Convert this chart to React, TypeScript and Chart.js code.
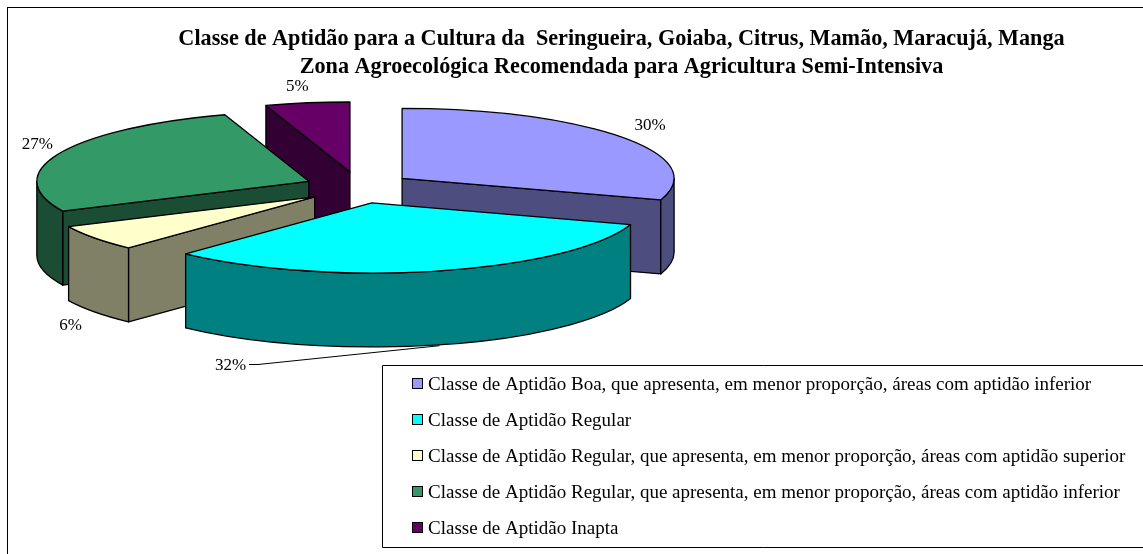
import React, { useEffect, useRef } from "react";
import { Chart, registerables } from "chart.js";

Chart.register(...registerables);

const categories = [
  "Classe de Aptidão Boa, que apresenta, em menor proporção, áreas com aptidão inferior",
  "Classe de Aptidão Regular",
  "Classe de Aptidão Regular, que apresenta, em menor proporção, áreas com aptidão superior",
  "Classe de Aptidão Regular, que apresenta, em menor proporção, áreas com aptidão inferior",
  "Classe de Aptidão Inapta",
];
const values = [30, 32, 6, 27, 5];
const topColors = ["#9999FF", "#00FFFF", "#FFFFCC", "#339966", "#660066"];
const sideColors = ["#4D4D80", "#008080", "#808066", "#1A4D33", "#330033"];
const titleLines = [
  "Classe de Aptidão para a Cultura da  Seringueira, Goiaba, Citrus, Mamão, Maracujá, Manga",
  "Zona Agroecológica Recomendada para Agricultura Semi-Intensiva",
];

const FONT = '"Liberation Serif", "Times New Roman", serif';
const W = 1143;
const H = 554;
// projection of the pie's disc on the page
const VIEW = { cx: 358.4, cy: 187.6, rx: 272, ry: 70, depth: 74, explodeX: 54, explodeY: 15.8 };
// label nudge from each slice's rim midpoint
const LABEL_NUDGE = [
  [28, -12],
  [-209, 95],
  [-24, 87],
  [-22, -9],
  [-10, -16],
];
const LEGEND = { left: 382.5, top: 365.5, right: 1200, bottom: 547.5, swatchX: 412, textX: 428, firstY: 385, step: 36 };

const pie3d = {
  id: "pie3d",
  beforeDatasetDraw(chart: any) {
    const ctx: CanvasRenderingContext2D = chart.ctx;
    const arcs = chart.getDatasetMeta(0).data as any[];
    const slices = arcs.map((arc, i) => {
      const mid = (arc.startAngle + arc.endAngle) / 2;
      return {
        i,
        start: arc.startAngle,
        end: arc.endAngle,
        mid,
        x: VIEW.cx + VIEW.explodeX * Math.cos(mid),
        y: VIEW.cy + VIEW.explodeY * Math.sin(mid),
      };
    });
    const rimPoint = (s: any, t: number) => [s.x + VIEW.rx * Math.cos(t), s.y + VIEW.ry * Math.sin(t)];

    ctx.save();
    ctx.lineWidth = 1.3;
    ctx.strokeStyle = "#000";
    ctx.lineJoin = "round";

    const paint = (fill: string) => {
      ctx.fillStyle = fill;
      ctx.fill();
      ctx.stroke();
    };
    const cutFace = (s: any, t: number, fill: string) => {
      const [px, py] = rimPoint(s, t);
      ctx.beginPath();
      ctx.moveTo(s.x, s.y);
      ctx.lineTo(px, py);
      ctx.lineTo(px, py + VIEW.depth);
      ctx.lineTo(s.x, s.y + VIEW.depth);
      ctx.closePath();
      paint(fill);
    };

    [...slices]
      .sort((a, b) => a.y - b.y)
      .forEach((s) => {
        const side = sideColors[s.i];
        // cut faces turned to the viewer
        if (Math.cos(s.start) < -1e-6) cutFace(s, s.start, side);
        if (Math.cos(s.end) > 1e-6) cutFace(s, s.end, side);
        // outer wall: only the front half of the rim
        const t0 = Math.max(s.start, 0);
        const t1 = Math.min(s.end, Math.PI);
        if (t1 > t0) {
          ctx.beginPath();
          ctx.ellipse(s.x, s.y, VIEW.rx, VIEW.ry, 0, t0, t1);
          ctx.ellipse(s.x, s.y + VIEW.depth, VIEW.rx, VIEW.ry, 0, t1, t0, true);
          ctx.closePath();
          paint(side);
        }
        // top face
        ctx.beginPath();
        ctx.moveTo(s.x, s.y);
        ctx.ellipse(s.x, s.y, VIEW.rx, VIEW.ry, 0, s.start, s.end);
        ctx.closePath();
        paint(topColors[s.i]);
      });

    // percent labels and the one leader line
    ctx.fillStyle = "#000";
    ctx.font = `17px ${FONT}`;
    ctx.textAlign = "center";
    ctx.textBaseline = "middle";
    slices.forEach((s) => {
      const [px, py] = rimPoint(s, s.mid);
      const [nx, ny] = LABEL_NUDGE[s.i];
      ctx.fillText(`${values[s.i]}%`, px + nx, py + ny);
    });
    const lead = slices[1];
    const [lx, ly] = rimPoint(lead, lead.mid);
    ctx.lineWidth = 1;
    ctx.beginPath();
    ctx.moveTo(lx, ly + VIEW.depth + 1);
    ctx.lineTo(258, 364.5);
    ctx.lineTo(249, 364.5);
    ctx.stroke();
    ctx.restore();
    return false;
  },
  beforeDraw(chart: any) {
    const ctx: CanvasRenderingContext2D = chart.ctx;
    ctx.save();
    ctx.fillStyle = "#fff";
    ctx.fillRect(0, 0, W, H);
    ctx.strokeStyle = "#000";
    ctx.lineWidth = 1;
    ctx.strokeRect(7.5, 7.5, W + 50, H + 50);
    ctx.restore();
  },
  afterDraw(chart: any) {
    const ctx: CanvasRenderingContext2D = chart.ctx;
    const L = LEGEND;
    ctx.save();
    ctx.strokeStyle = "#000";
    ctx.lineWidth = 1;
    ctx.fillStyle = "#fff";
    ctx.beginPath();
    ctx.rect(L.left, L.top, L.right - L.left, L.bottom - L.top);
    ctx.fill();
    ctx.stroke();
    ctx.font = `19px ${FONT}`;
    ctx.textAlign = "left";
    ctx.textBaseline = "middle";
    categories.forEach((label, i) => {
      const y = L.firstY + i * L.step;
      ctx.fillStyle = topColors[i];
      ctx.fillRect(L.swatchX + 0.5, y - 6.5, 10, 10);
      ctx.strokeRect(L.swatchX + 0.5, y - 6.5, 10, 10);
      ctx.fillStyle = "#000";
      ctx.fillText(label, L.textX, y);
    });
    ctx.restore();
  },
};

export default function App() {
  const ref = useRef<HTMLCanvasElement>(null);
  useEffect(() => {
    document.body.style.margin = "0";
    const chart = new Chart(ref.current!, {
      type: "pie",
      data: {
        labels: categories,
        datasets: [{ data: values, backgroundColor: topColors, borderColor: "#000", borderWidth: 1 }],
      },
      options: {
        responsive: false,
        animation: false,
        layout: { padding: { left: 100 } },
        plugins: {
          legend: { display: false },
          tooltip: { enabled: false },
          title: {
            display: true,
            text: titleLines,
            color: "#000",
            font: { family: FONT, size: 22.2, weight: "bold", lineHeight: 1.26 },
            padding: { top: 25, bottom: 10 },
          },
        },
      },
      plugins: [pie3d],
    } as any);
    return () => chart.destroy();
  }, []);
  return <canvas ref={ref} width={W} height={H} style={{ display: "block", width: W, height: H }} />;
}
